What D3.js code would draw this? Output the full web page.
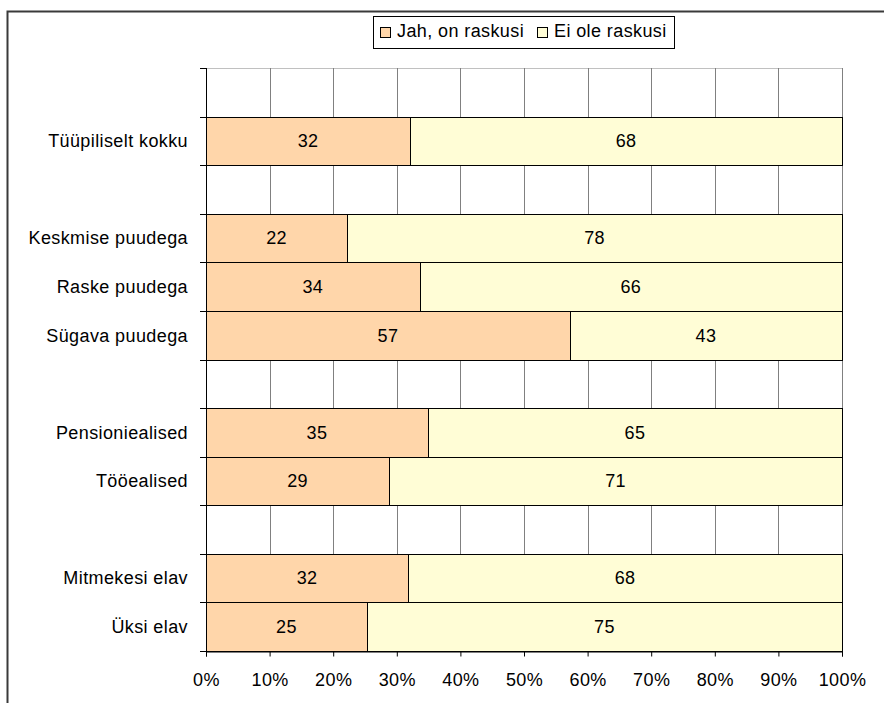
<!DOCTYPE html>
<html>
<head>
<meta charset="utf-8">
<script src="https://cdn.jsdelivr.net/npm/d3@7"></script>
<style>
  body { margin: 0; background: #fff; }
  svg text { font-family: Arial, "Liberation Sans", sans-serif; font-size: 18px; letter-spacing: 0.4px; fill: #000; }
</style>
</head>
<body>
<div id="viz"></div>
<script>
// rows top to bottom, empty strings are spacer rows
var categories = ["", "Tüüpiliselt kokku", "", "Keskmise puudega", "Raske puudega", "Sügava puudega", "",
                  "Pensioniealised", "Tööealised", "", "Mitmekesi elav", "Üksi elav"];
var jah = [null, 32.1, null, 22.2, 33.6, 57.2, null, 34.9, 28.8, null, 31.8, 25.3];
var ei  = [null, 67.9, null, 77.8, 66.4, 42.8, null, 65.1, 71.2, null, 68.2, 74.7];
var seriesNames = ["Jah, on raskusi", "Ei ole raskusi"];
var seriesColors = ["#FFD6AA", "#FFFDD6"];
var ticks = [0, 10, 20, 30, 40, 50, 60, 70, 80, 90, 100];

var W = 884, H = 703;
var pl = 206, pr = 842, pt = 68, pb = 651;

var svg = d3.select("#viz").append("svg")
    .attr("width", W)
    .attr("height", H);

// outer chart frame
svg.append("path")
    .attr("d", "M7.5," + H + "V11.5H" + W)
    .attr("fill", "none")
    .attr("stroke", "#3a3a3a")
    .attr("stroke-width", 2);

var x = d3.scaleLinear().domain([0, 100]).range([pl, pr]);
var y = d3.scaleBand().domain(d3.range(categories.length)).range([pt, pb]).padding(0);

// plot area border
svg.append("rect")
    .attr("x", pl + 0.5).attr("y", pt + 0.5)
    .attr("width", pr - pl).attr("height", pb - pt)
    .attr("fill", "#fff")
    .attr("stroke", "#c0c0c0");
svg.append("line")
    .attr("x1", pr + 0.5).attr("x2", pr + 0.5)
    .attr("y1", pt).attr("y2", pb)
    .attr("stroke", "#808080");

// vertical grid
svg.append("g").selectAll("line")
    .data(ticks.slice(1, -1))
    .enter().append("line")
    .attr("x1", function(d){ return Math.round(x(d)) + 0.5; })
    .attr("x2", function(d){ return Math.round(x(d)) + 0.5; })
    .attr("y1", pt).attr("y2", pb)
    .attr("stroke", "#808080");

// bars
var rows = d3.range(categories.length).filter(function(i){ return jah[i] != null; });
var stack = [];
rows.forEach(function(i){
    stack.push({row: i, s: 0, x0: 0, x1: jah[i], v: jah[i]});
    stack.push({row: i, s: 1, x0: jah[i], x1: jah[i] + ei[i], v: ei[i]});
});

var bars = svg.append("g");
bars.selectAll("rect")
    .data(stack)
    .enter().append("rect")
    .attr("x", function(d){ return Math.round(x(d.x0)) + 0.5; })
    .attr("width", function(d){ return Math.round(x(d.x1)) - Math.round(x(d.x0)); })
    .attr("y", function(d){ return Math.round(y(d.row)) + 0.5; })
    .attr("height", function(d){ return Math.round(y(d.row) + y.bandwidth()) - Math.round(y(d.row)); })
    .attr("fill", function(d){ return seriesColors[d.s]; })
    .attr("stroke", "#000");

bars.selectAll("text")
    .data(stack)
    .enter().append("text")
    .attr("x", function(d){ return (x(d.x0) + x(d.x1)) / 2; })
    .attr("y", function(d){ return y(d.row) + y.bandwidth() / 2; })
    .attr("dy", "0.35em")
    .attr("text-anchor", "middle")
    .text(function(d){ return d3.format(".0f")(d.v); });

// left axis line + ticks at band edges
svg.append("line")
    .attr("x1", pl + 0.5).attr("x2", pl + 0.5)
    .attr("y1", pt).attr("y2", pb + 1)
    .attr("stroke", "#000");
svg.append("g").selectAll("line")
    .data(d3.range(categories.length + 1))
    .enter().append("line")
    .attr("x1", pl - 6).attr("x2", pl)
    .attr("y1", function(d){ return Math.round(pt + d * y.step()) + 0.5; })
    .attr("y2", function(d){ return Math.round(pt + d * y.step()) + 0.5; })
    .attr("stroke", "#000");

svg.append("g").selectAll("text")
    .data(categories)
    .enter().append("text")
    .attr("x", pl - 18)
    .attr("y", function(d, i){ return y(i) + y.bandwidth() / 2; })
    .attr("dy", "0.35em")
    .attr("text-anchor", "end")
    .text(function(d){ return d; });

// bottom axis
var xAxis = svg.append("g")
    .attr("transform", "translate(0," + (pb + 0.5) + ")")
    .call(d3.axisBottom(x).tickValues(ticks).tickSize(5).tickPadding(17)
        .tickFormat(function(d){ return d + "%"; }));
xAxis.attr("font-size", null).attr("font-family", null);
xAxis.select(".domain").attr("stroke", "#000");
xAxis.selectAll(".tick line").attr("stroke", "#000");

// legend
var lg = svg.append("g");
lg.append("rect")
    .attr("x", 373.5).attr("y", 16.5)
    .attr("width", 301).attr("height", 32)
    .attr("fill", "#fff").attr("stroke", "#000");
var lx = [380, 537];
seriesNames.forEach(function(n, i){
    lg.append("rect")
        .attr("x", lx[i] + 0.5).attr("y", 27.5)
        .attr("width", 10).attr("height", 10)
        .attr("fill", seriesColors[i]).attr("stroke", "#000");
    lg.append("text")
        .attr("x", lx[i] + 17).attr("y", 31)
        .attr("dy", "0.35em")
        .text(n);
});
</script>
</body>
</html>
